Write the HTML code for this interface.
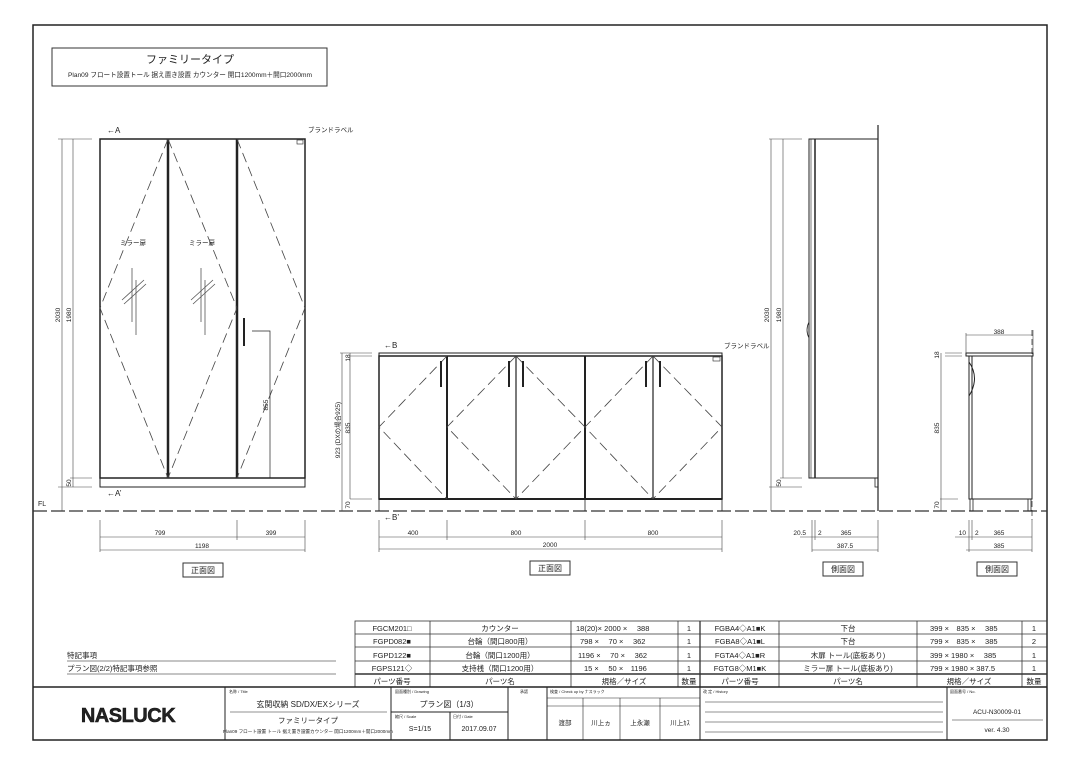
<!DOCTYPE html>
<html><head><meta charset="utf-8"><style>
html,body{margin:0;padding:0;background:#fff;}
svg{display:block;}
text{font-family:"Liberation Sans","Noto Sans CJK JP",sans-serif;fill:#222;}
</style></head><body>
<svg width="1080" height="764" viewBox="0 0 1080 764" xmlns="http://www.w3.org/2000/svg">
<rect x="0" y="0" width="1080" height="764" fill="#fff"/>
<rect x="33" y="25" width="1014" height="715" fill="none" stroke="#222" stroke-width="1.5"/>
<rect x="52" y="48" width="275" height="38" fill="none" stroke="#333" stroke-width="1"/>
<text x="190" y="63" font-size="11" text-anchor="middle">ファミリータイプ</text>
<text x="190" y="77" font-size="6.6" text-anchor="middle">Plan09 フロート設置トール 据え置き設置 カウンター 開口1200mm＋開口2000mm</text>

<line x1="33" y1="511" x2="1047" y2="511" stroke="#333" stroke-width="1.3" stroke-dasharray="14,4"/>
<text x="38" y="506" font-size="7">FL</text>

<g stroke="#222" fill="none">
<rect x="100" y="139" width="205" height="339" stroke-width="1.5"/>
<rect x="100" y="478" width="205" height="9" stroke-width="1"/>
<line x1="168" y1="139" x2="168" y2="478" stroke-width="2.5"/>
<line x1="237" y1="139" x2="237" y2="478" stroke-width="2.5"/>
<g stroke-width="0.8" stroke-dasharray="10,5" stroke="#444">
<polyline points="168,139 100,308 168,478"/>
<polyline points="168,139 237,308 168,478"/>
<polyline points="237,139 305,308 237,478"/>
</g>
<g stroke-width="0.8" stroke="#555">
<line x1="132" y1="268" x2="132" y2="322"/><line x1="136" y1="280" x2="136" y2="335"/>
<line x1="122" y1="300" x2="144" y2="280"/><line x1="124" y1="304" x2="146" y2="284"/>
<line x1="201" y1="268" x2="201" y2="322"/><line x1="205" y1="280" x2="205" y2="335"/>
<line x1="191" y1="300" x2="213" y2="280"/><line x1="193" y1="304" x2="215" y2="284"/>
</g>
<line x1="244" y1="318" x2="244" y2="346" stroke-width="2"/>
<polyline points="252,331 270,331 270,478" stroke-width="0.7"/>
<rect x="297" y="140" width="6" height="4" stroke-width="0.6"/>
<g stroke-width="0.6" stroke="#444">
<line x1="62" y1="139" x2="62" y2="511"/><line x1="73" y1="139" x2="73" y2="478"/>
<line x1="58" y1="139" x2="92" y2="139"/><line x1="70" y1="478" x2="92" y2="478"/>
<line x1="58" y1="487" x2="92" y2="487"/><line x1="73" y1="478" x2="73" y2="487"/>
<line x1="100" y1="520" x2="100" y2="552"/><line x1="237" y1="520" x2="237" y2="540"/><line x1="305" y1="520" x2="305" y2="552"/>
<line x1="100" y1="537" x2="305" y2="537"/><line x1="100" y1="550" x2="305" y2="550"/>
</g>
<rect x="379" y="353" width="343" height="3" stroke-width="1"/>
<rect x="379" y="356" width="343" height="143" stroke-width="1.5"/>
<line x1="379" y1="499" x2="722" y2="499" stroke-width="2"/>
<line x1="379" y1="499" x2="379" y2="511" stroke-width="0.8"/>
<line x1="722" y1="499" x2="722" y2="511" stroke-width="0.8"/>
<line x1="585" y1="499" x2="585" y2="511" stroke-width="0.8"/>
<line x1="447" y1="356" x2="447" y2="499" stroke-width="2"/>
<line x1="516" y1="356" x2="516" y2="499" stroke-width="1.2"/>
<line x1="585" y1="356" x2="585" y2="499" stroke-width="2"/>
<line x1="653" y1="356" x2="653" y2="499" stroke-width="1.2"/>
<g stroke-width="0.8" stroke-dasharray="10,5" stroke="#444">
<polyline points="447,356 379,427 447,499"/>
<polyline points="516,356 447,427 516,499"/>
<polyline points="516,356 585,427 516,499"/>
<polyline points="653,356 585,427 653,499"/>
<polyline points="653,356 722,427 653,499"/>
</g>
<g stroke-width="2">
<line x1="441" y1="361" x2="441" y2="387"/><line x1="509" y1="361" x2="509" y2="387"/>
<line x1="523" y1="361" x2="523" y2="387"/><line x1="646" y1="361" x2="646" y2="387"/>
<line x1="660" y1="361" x2="660" y2="387"/>
</g>
<rect x="713" y="357" width="7" height="4" stroke-width="0.6"/>
<g stroke-width="0.6" stroke="#444">
<line x1="342" y1="353" x2="342" y2="511"/><line x1="350" y1="353" x2="350" y2="499"/>
<line x1="340" y1="353" x2="372" y2="353"/><line x1="350" y1="356" x2="372" y2="356"/><line x1="350" y1="499" x2="372" y2="499"/>
<line x1="379" y1="520" x2="379" y2="552"/><line x1="447" y1="520" x2="447" y2="540"/><line x1="585" y1="520" x2="585" y2="540"/><line x1="722" y1="520" x2="722" y2="552"/>
<line x1="379" y1="537" x2="722" y2="537"/><line x1="379" y1="549" x2="722" y2="549"/>
</g>
<rect x="809" y="139" width="69" height="339" stroke-width="1"/>
<line x1="815" y1="139" x2="815" y2="478" stroke-width="1.5"/>
<line x1="811" y1="139" x2="811" y2="478" stroke-width="0.6"/>
<line x1="878" y1="125" x2="878" y2="511" stroke-width="1.2"/>
<rect x="875" y="478" width="3" height="9" stroke-width="0.8"/>
<path d="M809,322 Q805,330 809,338" stroke-width="0.8"/>
<g stroke-width="0.6" stroke="#444">
<line x1="771" y1="139" x2="771" y2="511"/><line x1="783" y1="139" x2="783" y2="478"/>
<line x1="769" y1="139" x2="802" y2="139"/><line x1="780" y1="478" x2="802" y2="478"/><line x1="769" y1="487" x2="802" y2="487"/>
<line x1="812" y1="520" x2="812" y2="552"/><line x1="815" y1="520" x2="815" y2="540"/><line x1="878" y1="520" x2="878" y2="552"/>
<line x1="800" y1="537" x2="878" y2="537"/><line x1="812" y1="550" x2="878" y2="550"/>
</g>
<rect x="966" y="353" width="67" height="3" stroke-width="1"/>
<rect x="969" y="356" width="63" height="143" stroke-width="1"/>
<line x1="972" y1="356" x2="972" y2="499" stroke-width="1"/>
<rect x="970" y="499" width="3" height="12" stroke-width="0.8"/>
<rect x="1028" y="499" width="3" height="12" stroke-width="0.8"/>
<path d="M969,362 Q980,378 969,396" stroke-width="1"/>
<line x1="1032" y1="330" x2="1032" y2="520" stroke-width="0.7" stroke-dasharray="6,3"/>
<g stroke-width="0.6" stroke="#444">
<line x1="966" y1="335" x2="1033" y2="335"/><line x1="966" y1="333" x2="966" y2="353"/><line x1="1033" y1="330" x2="1033" y2="353"/>
<line x1="941" y1="353" x2="941" y2="511"/><line x1="945" y1="353" x2="962" y2="353"/><line x1="945" y1="356" x2="962" y2="356"/><line x1="940" y1="499" x2="958" y2="499"/>
<line x1="969" y1="520" x2="969" y2="552"/><line x1="972" y1="520" x2="972" y2="540"/><line x1="1032" y1="520" x2="1032" y2="552"/>
<line x1="955" y1="537" x2="1032" y2="537"/><line x1="966" y1="550" x2="1032" y2="550"/>
</g>
</g>

<g font-size="6.5">
<text x="107" y="133" font-size="8">←A</text>
<text x="107" y="496" font-size="8">←A’</text>
<text x="308" y="132">ブランドラベル</text>
<text x="120" y="245">ミラー扉</text>
<text x="189" y="245">ミラー扉</text>
<text x="160" y="535" text-anchor="middle">799</text>
<text x="271" y="535" text-anchor="middle">399</text>
<text x="202" y="548" text-anchor="middle">1198</text>
<text x="60" y="315" transform="rotate(-90 60 315)" text-anchor="middle">2030</text>
<text x="71" y="315" transform="rotate(-90 71 315)" text-anchor="middle">1980</text>
<text x="71" y="483" transform="rotate(-90 71 483)" text-anchor="middle">50</text>
<text x="268" y="405" transform="rotate(-90 268 405)" text-anchor="middle">855</text>
<text x="384" y="348" font-size="8">←B</text>
<text x="384" y="520" font-size="8">←B’</text>
<text x="724" y="348">ブランドラベル</text>
<text x="413" y="535" text-anchor="middle">400</text>
<text x="516" y="535" text-anchor="middle">800</text>
<text x="653" y="535" text-anchor="middle">800</text>
<text x="550" y="547" text-anchor="middle">2000</text>
<text x="340" y="430" transform="rotate(-90 340 430)" text-anchor="middle">923 (DXの場合925)</text>
<text x="350" y="428" transform="rotate(-90 350 428)" text-anchor="middle">835</text>
<text x="350" y="358" transform="rotate(-90 350 358)" text-anchor="middle">18</text>
<text x="350" y="505" transform="rotate(-90 350 505)" text-anchor="middle">70</text>
<text x="769" y="315" transform="rotate(-90 769 315)" text-anchor="middle">2030</text>
<text x="781" y="315" transform="rotate(-90 781 315)" text-anchor="middle">1980</text>
<text x="781" y="483" transform="rotate(-90 781 483)" text-anchor="middle">50</text>
<text x="806" y="535" text-anchor="end">20.5</text>
<text x="818" y="535">2</text>
<text x="846" y="535" text-anchor="middle">365</text>
<text x="845" y="548" text-anchor="middle">387.5</text>
<text x="999" y="334" text-anchor="middle">388</text>
<text x="939" y="355" transform="rotate(-90 939 355)" text-anchor="middle">18</text>
<text x="939" y="428" transform="rotate(-90 939 428)" text-anchor="middle">835</text>
<text x="939" y="505" transform="rotate(-90 939 505)" text-anchor="middle">70</text>
<text x="966" y="535" text-anchor="end">10</text>
<text x="975" y="535">2</text>
<text x="999" y="535" text-anchor="middle">365</text>
<text x="999" y="548" text-anchor="middle">385</text>
</g>
<g fill="none" stroke="#333" stroke-width="1">
<rect x="183" y="563" width="40" height="14"/><rect x="530" y="561" width="40" height="14"/>
<rect x="823" y="562" width="40" height="14"/><rect x="977" y="562" width="40" height="14"/>
</g>
<g font-size="8" text-anchor="middle">
<text x="203" y="573">正面図</text><text x="550" y="571">正面図</text>
<text x="843" y="572">側面図</text><text x="997" y="572">側面図</text>
</g>

<text x="67" y="658" font-size="7.5">特記事項</text>
<line x1="67" y1="661" x2="336" y2="661" stroke="#888" stroke-width="1"/>
<text x="67" y="671" font-size="7.5">プラン図(2/2)特記事項参照</text>
<line x1="67" y1="674" x2="336" y2="674" stroke="#888" stroke-width="1"/>

<g stroke="#333" fill="none" stroke-width="0.8">
<rect x="355" y="621" width="692" height="66"/>
<line x1="355" y1="634" x2="1047" y2="634"/><line x1="355" y1="647" x2="1047" y2="647"/>
<line x1="355" y1="661" x2="1047" y2="661"/><line x1="355" y1="674" x2="1047" y2="674" stroke-width="1.5"/>
<line x1="430" y1="621" x2="430" y2="687"/><line x1="571" y1="621" x2="571" y2="687"/>
<line x1="678" y1="621" x2="678" y2="687"/><line x1="700" y1="621" x2="700" y2="687" stroke-width="1.3"/>
<line x1="779" y1="621" x2="779" y2="687"/><line x1="917" y1="621" x2="917" y2="687"/>
<line x1="1022" y1="621" x2="1022" y2="687"/>
</g>
<g font-size="7.5">
<text x="392" y="631" text-anchor="middle">FGCM201□</text><text x="500" y="631" text-anchor="middle">カウンター</text><text x="576" y="631">18(20)× 2000 ×　 388</text><text x="689" y="631" text-anchor="middle">1</text>
<text x="392" y="644" text-anchor="middle">FGPD082■</text><text x="500" y="644" text-anchor="middle">台輪（間口800用）</text><text x="580" y="644">798 ×　 70 ×　 362</text><text x="689" y="644" text-anchor="middle">1</text>
<text x="392" y="658" text-anchor="middle">FGPD122■</text><text x="500" y="658" text-anchor="middle">台輪（間口1200用）</text><text x="578" y="658">1196 ×　 70 ×　 362</text><text x="689" y="658" text-anchor="middle">1</text>
<text x="392" y="671" text-anchor="middle">FGPS121◇</text><text x="500" y="671" text-anchor="middle">支持桟（間口1200用）</text><text x="584" y="671">15 ×　 50 ×　1196</text><text x="689" y="671" text-anchor="middle">1</text>
<text x="392" y="684" text-anchor="middle">パーツ番号</text><text x="500" y="684" text-anchor="middle">パーツ名</text><text x="624" y="684" text-anchor="middle">規格／サイズ</text><text x="689" y="684" text-anchor="middle">数量</text>
<text x="740" y="631" text-anchor="middle">FGBA4◇A1■K</text><text x="848" y="631" text-anchor="middle">下台</text><text x="930" y="631">399 ×　835 ×　 385</text><text x="1034" y="631" text-anchor="middle">1</text>
<text x="740" y="644" text-anchor="middle">FGBA8◇A1■L</text><text x="848" y="644" text-anchor="middle">下台</text><text x="930" y="644">799 ×　835 ×　 385</text><text x="1034" y="644" text-anchor="middle">2</text>
<text x="740" y="658" text-anchor="middle">FGTA4◇A1■R</text><text x="848" y="658" text-anchor="middle">木扉 トール(底板あり)</text><text x="930" y="658">399 × 1980 ×　 385</text><text x="1034" y="658" text-anchor="middle">1</text>
<text x="740" y="671" text-anchor="middle">FGTG8◇M1■K</text><text x="848" y="671" text-anchor="middle">ミラー扉 トール(底板あり)</text><text x="930" y="671">799 × 1980 × 387.5</text><text x="1034" y="671" text-anchor="middle">1</text>
<text x="740" y="684" text-anchor="middle">パーツ番号</text><text x="848" y="684" text-anchor="middle">パーツ名</text><text x="969" y="684" text-anchor="middle">規格／サイズ</text><text x="1034" y="684" text-anchor="middle">数量</text>
</g>

<g stroke="#222" fill="none" stroke-width="1">
<line x1="33" y1="687" x2="1047" y2="687" stroke-width="1.5"/>
<line x1="225" y1="687" x2="225" y2="740"/><line x1="391" y1="687" x2="391" y2="740"/>
<line x1="508" y1="687" x2="508" y2="740"/><line x1="547" y1="687" x2="547" y2="740"/>
<line x1="700" y1="687" x2="700" y2="740"/><line x1="947" y1="687" x2="947" y2="740"/>
<line x1="391" y1="712" x2="508" y2="712"/><line x1="450" y1="712" x2="450" y2="740"/>
<line x1="547" y1="698" x2="700" y2="698" stroke-width="0.6"/><line x1="547" y1="706" x2="700" y2="706" stroke-width="0.6"/>
<line x1="583" y1="698" x2="583" y2="740" stroke-width="0.6"/><line x1="620" y1="698" x2="620" y2="740" stroke-width="0.6"/><line x1="660" y1="698" x2="660" y2="740" stroke-width="0.6"/>
<line x1="230" y1="712" x2="387" y2="712" stroke-width="0.6"/>
<line x1="705" y1="702" x2="943" y2="702" stroke-width="0.6"/><line x1="705" y1="712" x2="943" y2="712" stroke-width="0.6"/>
<line x1="705" y1="722" x2="943" y2="722" stroke-width="0.6"/><line x1="705" y1="732" x2="943" y2="732" stroke-width="0.6"/>
<line x1="952" y1="720" x2="1043" y2="720" stroke-width="0.6"/>
</g>
<text x="128" y="722" font-size="20" font-weight="bold" text-anchor="middle" fill="#111" stroke="#111" stroke-width="0.5" letter-spacing="-0.5">NASLUCK</text>
<g font-size="4" fill="#777">
<text x="229" y="693">名称 / Title</text><text x="395" y="693">図面種別 / Drawing</text><text x="395" y="718">縮尺 / Scale</text><text x="453" y="718">日付 / Date</text>
<text x="520" y="693">承認</text><text x="550" y="693">検査 / Check up by ナスラック</text><text x="703" y="693">改 定 / History</text><text x="950" y="693">図面番号 / No.</text>
</g>
<g font-size="8" text-anchor="middle">
<text x="308" y="707">玄関収納 SD/DX/EXシリーズ</text>
<text x="449" y="707">プラン図（1/3）</text>
<text x="308" y="723" font-size="7.5">ファミリータイプ</text>
<text x="308" y="733" font-size="4.6">Plan09 フロート設置 トール 据え置き設置カウンター 開口1200mm＋開口2000mm</text>
<text x="420" y="731" font-size="7">S=1/15</text>
<text x="479" y="731" font-size="7">2017.09.07</text>
<text x="565" y="725" font-size="6.5">渡部</text><text x="601" y="725" font-size="6.5">川上ヵ</text><text x="640" y="725" font-size="6.5">上永瀬</text><text x="680" y="725" font-size="6.5">川上ｶｽ</text>
<text x="997" y="714" font-size="6.5">ACU-N30009-01</text>
<text x="997" y="732" font-size="6.5">ver. 4.30</text>
</g>
</svg>
</body></html>
